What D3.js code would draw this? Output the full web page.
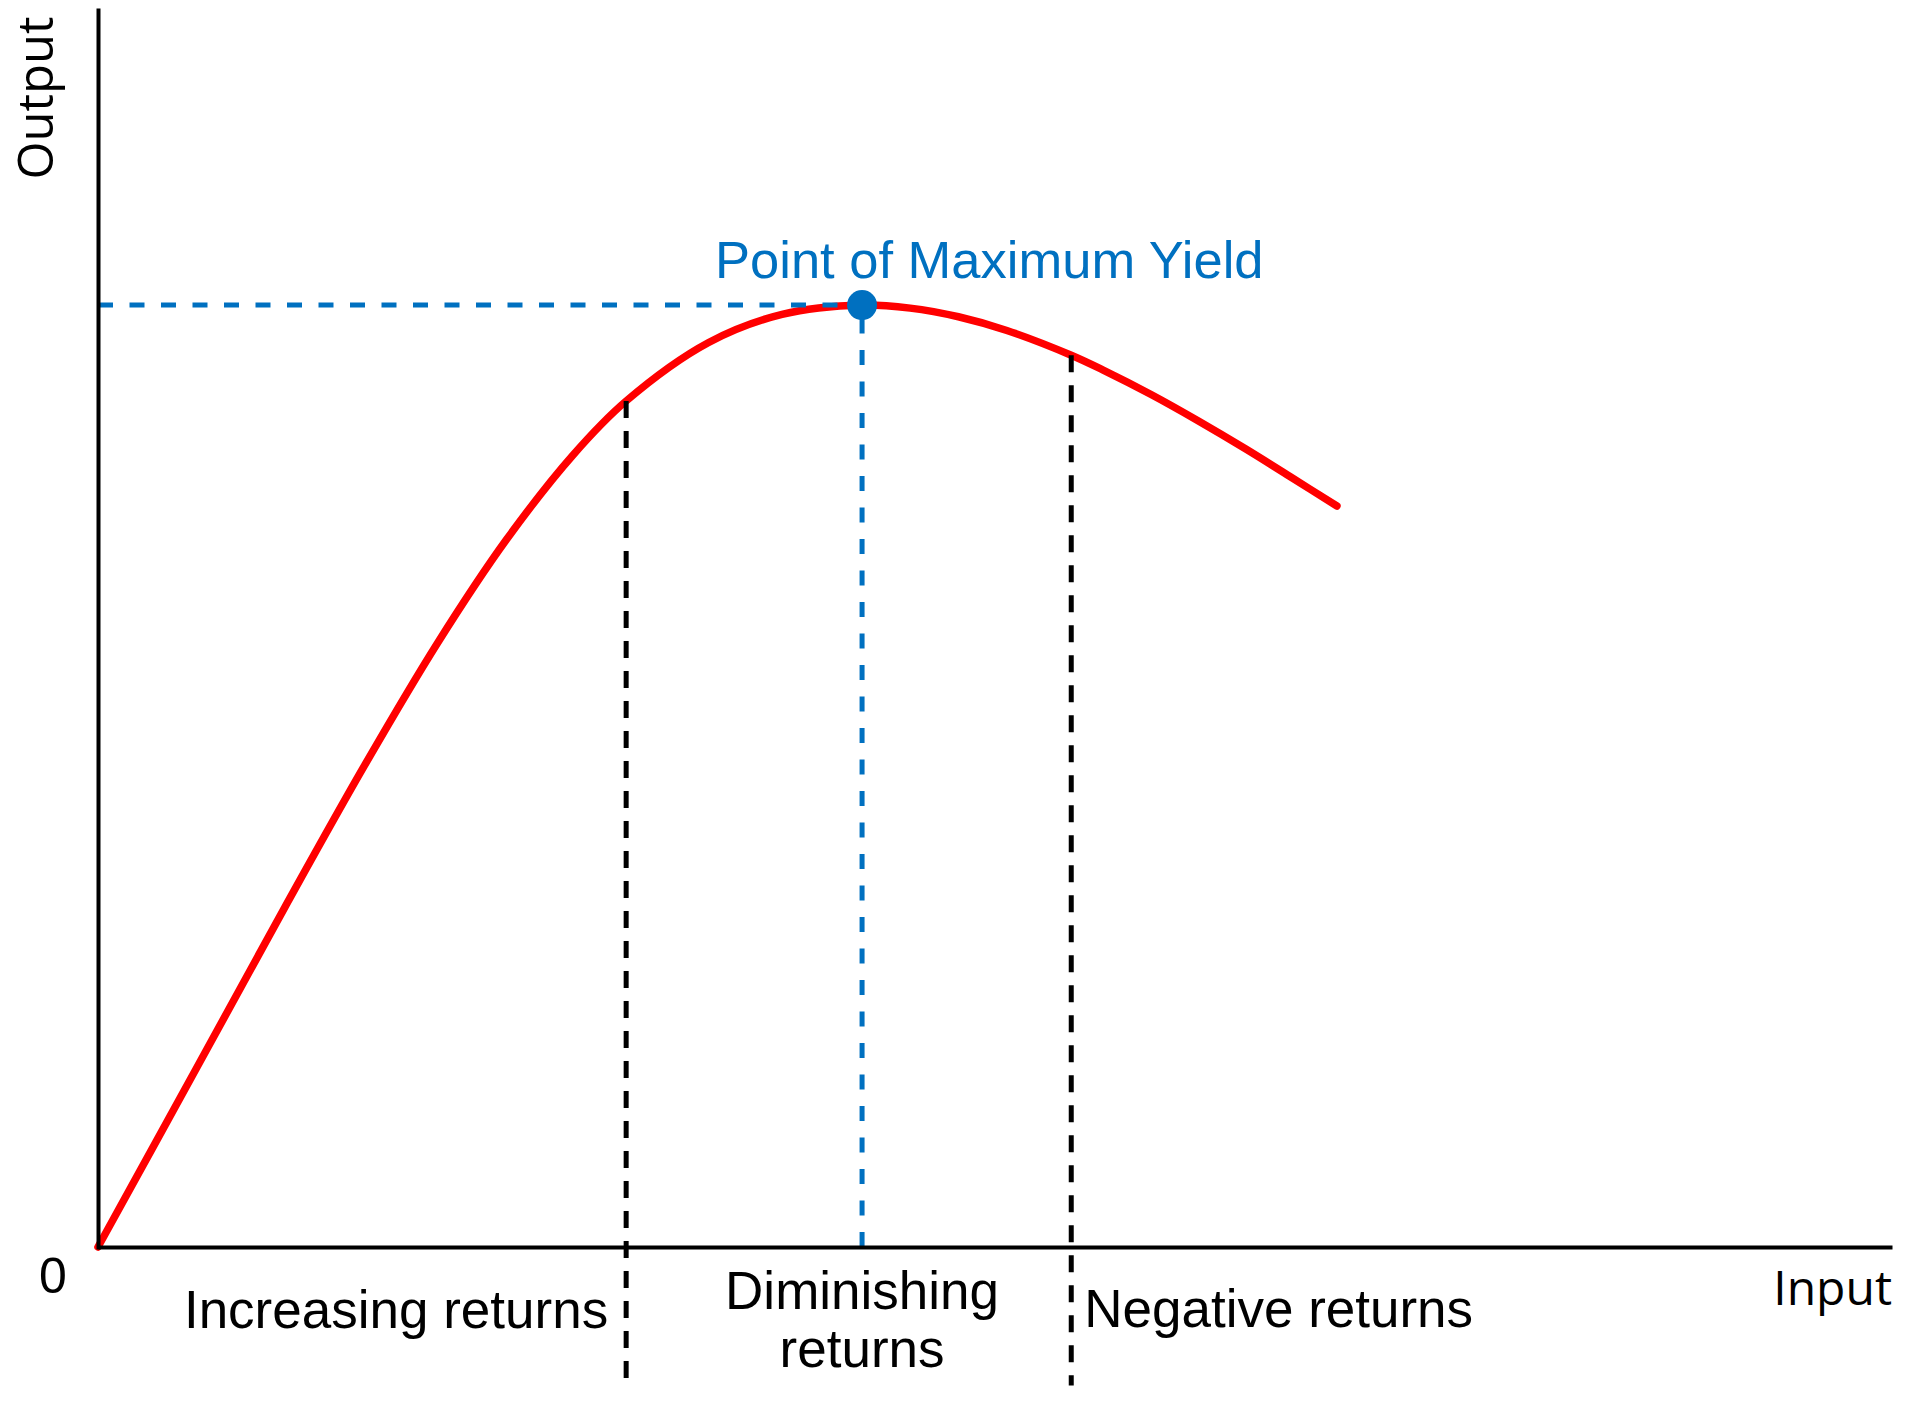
<!DOCTYPE html>
<html>
<head>
<meta charset="utf-8">
<script src="https://cdn.jsdelivr.net/npm/d3@7"></script>
<style>
  html, body { margin: 0; padding: 0; background: #ffffff; }
  svg { display: block; }
</style>
</head>
<body>
<svg id="chart" width="1920" height="1408"></svg>
<script>
// ---- Data ----
const inputValues  = [0, 5.51, 10.42, 14.85, 18.92, 22.76, 26.47, 29.44, 34.04, 38.13, 42.59, 45.27, 47.96, 50.66, 54.25, 56.03, 58.70, 61.34, 63.96, 66.53, 69.06];
const outputValues = [0, 14.51, 27.48, 38.91, 48.81, 57.17, 64.01, 68.39, 73.12, 75.39, 76.15, 75.90, 75.20, 74.09, 72.09, 70.89, 68.92, 66.78, 64.53, 62.21, 59.90];
const stageBoundaries = [29.44, 54.25];          // input values where the stages change
const peakInput = 42.59;                          // point of maximum yield
const peakOutput = 76.15;
const stageLabels = ["Increasing returns", ["Diminishing", "returns"], "Negative returns"];
const axisLabels = { x: "Input", y: "Output", origin: "0" };
const peakLabel = "Point of Maximum Yield";
const dashBottom = -11.2;                         // how far the stage dividers extend below the axis

// ---- Layout ----
const svg = d3.select("#chart");
const x = d3.scaleLinear().domain([0, 100]).range([98, 1892]);
const y = d3.scaleLinear().domain([0, 100]).range([1247, 10]);

const data = inputValues.map((v, i) => ({ input: v, output: outputValues[i] }));
const outputAt = inp => {
  const d = data.find(p => Math.abs(p.input - inp) < 1e-9);
  return d ? d.output : 0;
};

const BLUE = "#0070c0";
const SANS = "'Liberation Sans', Arial, sans-serif";
const OPEN = "'Open Sans', sans-serif";

// ---- Curve ----
const line = d3.line()
  .x(d => x(d.input))
  .y(d => y(d.output))
  .curve(d3.curveCatmullRom.alpha(0.5));

svg.append("path")
  .datum(data)
  .attr("d", line)
  .attr("fill", "none")
  .attr("stroke", "#ff0000")
  .attr("stroke-width", 7.5)
  .attr("stroke-linecap", "round")
  .attr("stroke-linejoin", "round");

// ---- Stage dividers (black dashed) ----
svg.selectAll("line.stage")
  .data(stageBoundaries)
  .join("line")
  .attr("class", "stage")
  .attr("x1", d => x(d)).attr("x2", d => x(d))
  .attr("y1", d => y(outputAt(d))).attr("y2", y(dashBottom))
  .attr("stroke", "#000")
  .attr("stroke-width", 5)
  .attr("stroke-dasharray", "17,13");

// ---- Blue guides ----
svg.append("line")
  .attr("x1", x(0)).attr("x2", x(peakInput))
  .attr("y1", y(peakOutput)).attr("y2", y(peakOutput))
  .attr("stroke", BLUE).attr("stroke-width", 5)
  .attr("stroke-dasharray", "15,16.5");

svg.append("line")
  .attr("x1", x(peakInput)).attr("x2", x(peakInput))
  .attr("y1", y(0)).attr("y2", y(peakOutput))
  .attr("stroke", BLUE).attr("stroke-width", 5)
  .attr("stroke-dasharray", "15,16.5");

// ---- Axes ----
const xAxis = svg.append("g")
  .attr("transform", `translate(0,${y(0)})`)
  .call(d3.axisBottom(x).ticks(0).tickSize(0).tickSizeOuter(0));
const yAxis = svg.append("g")
  .attr("transform", `translate(${x(0)},0)`)
  .call(d3.axisLeft(y).ticks(0).tickSize(0).tickSizeOuter(0));
[xAxis, yAxis].forEach(g => {
  g.select(".domain").attr("stroke", "#000").attr("stroke-width", 4);
  g.selectAll(".tick").remove();
});
yAxis.select(".domain").attr("stroke-linecap", "square");

// ---- Peak point ----
svg.append("circle")
  .attr("cx", x(peakInput)).attr("cy", y(peakOutput))
  .attr("r", 15).attr("fill", BLUE);

svg.append("text")
  .attr("x", 715).attr("y", 278)
  .attr("font-family", SANS).attr("font-size", 52.5)
  .attr("fill", BLUE)
  .text(peakLabel);

// ---- Axis labels ----
svg.append("text")
  .attr("transform", "translate(53,98) rotate(-90)")
  .attr("text-anchor", "middle")
  .attr("font-family", OPEN).attr("font-size", 49)
  .attr("fill", "#000")
  .text(axisLabels.y);

svg.append("text")
  .attr("x", 1892).attr("y", 1305)
  .attr("text-anchor", "end")
  .attr("font-family", OPEN).attr("font-size", 48)
  .attr("fill", "#000")
  .text(axisLabels.x);

svg.append("text")
  .attr("x", 53).attr("y", 1293)
  .attr("text-anchor", "middle")
  .attr("font-family", SANS).attr("font-size", 50)
  .attr("fill", "#000")
  .text(axisLabels.origin);

// ---- Stage labels ----
svg.append("text")
  .attr("x", x(stageBoundaries[0]) - 18).attr("y", 1328)
  .attr("text-anchor", "end")
  .attr("font-family", SANS).attr("font-size", 53)
  .attr("fill", "#000")
  .text(stageLabels[0]);

const mid = svg.append("text")
  .attr("text-anchor", "middle")
  .attr("font-family", SANS).attr("font-size", 53)
  .attr("fill", "#000");
stageLabels[1].forEach((t, i) => {
  mid.append("tspan")
    .attr("x", x(peakInput))
    .attr("y", 1309 + i * 58)
    .text(t);
});

svg.append("text")
  .attr("x", x(stageBoundaries[1]) + 13).attr("y", 1327)
  .attr("font-family", SANS).attr("font-size", 53)
  .attr("fill", "#000")
  .text(stageLabels[2]);
</script>
</body>
</html>
